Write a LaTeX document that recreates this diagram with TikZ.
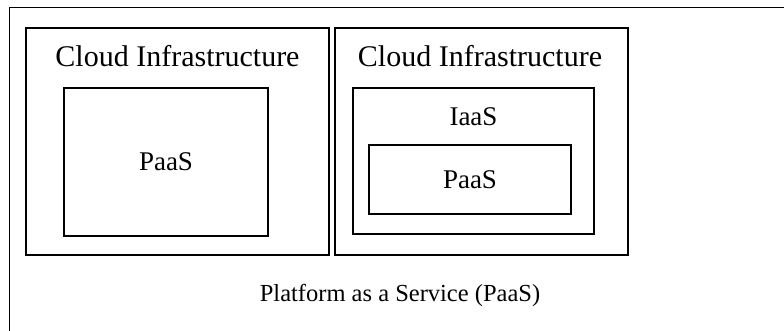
\documentclass[tikz,border=0pt]{standalone}
\usepackage{fontspec}
\setmainfont{Liberation Serif}
\usepackage{tikz}
\tikzstyle{box} = [rectangle, draw=black, line width=1.3pt, inner sep=0pt]
\tikzstyle{bigtext} = [inner sep=0pt, font=\fontsize{30}{34}\selectfont]
\tikzstyle{midtext} = [inner sep=0pt, font=\fontsize{27}{31}\selectfont]
\tikzstyle{smalltext} = [inner sep=0pt, font=\fontsize{24.5}{28}\selectfont]

\begin{document}
\begin{tikzpicture}[x=1pt, y=-1pt]
        \useasboundingbox (0,0) rectangle (784,331);
        \clip (0,0) rectangle (784,331);
        \node (platform) [box, minimum width=790pt, minimum height=340pt, anchor=north west] at (9,7) {};
        \node (cloud-a) [box, minimum width=303pt, minimum height=227pt] at (177.5,141.5) {};
        \node (cloud-b) [box, minimum width=293pt, minimum height=227pt] at (481.5,141.5) {};
        \node (paas-a) [box, minimum width=204pt, minimum height=148pt] at (166,162) {};
        \node (iaas) [box, minimum width=241pt, minimum height=146pt] at (473.5,161) {};
        \node (paas-b) [box, minimum width=202pt, minimum height=69pt] at (470,179.5) {};

        \node (cloud-a-text) [bigtext] at (177.5,56) {Cloud Infrastructure};
        \node (cloud-b-text) [bigtext] at (480,56) {Cloud Infrastructure};
        \node (paas-a-text) [midtext] at (paas-a) {PaaS};
        \node (iaas-text) [midtext] at (473.5,117) {IaaS};
        \node (paas-b-text) [midtext] at (paas-b) {PaaS};
        \node (platform-text) [smalltext] at (400,295) {Platform as a Service (PaaS)};
    \end{tikzpicture}
\end{document}
